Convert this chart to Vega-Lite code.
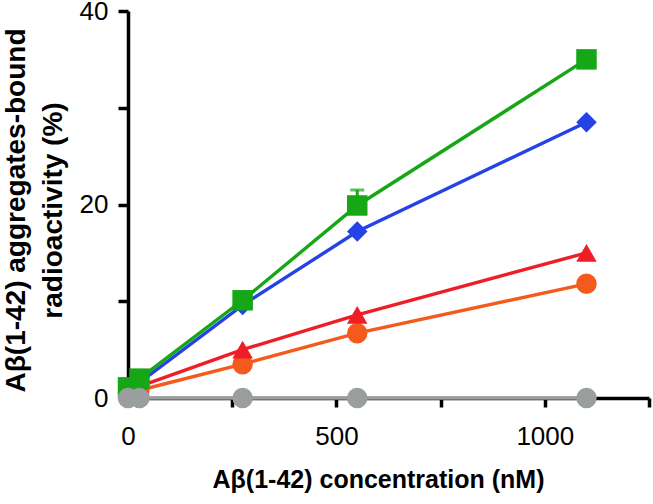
{
  "$schema": "https://vega.github.io/schema/vega-lite/v6.json",
  "width": 521,
  "height": 387,
  "autosize": "none",
  "padding": {"left": 128, "top": 11, "right": 4, "bottom": 106},
  "background": "white",
  "config": {
    "view": {"stroke": null},
    "font": "Liberation Sans"
  },
  "datasets": {
    "pts": [
      {"s": "orange", "conc": 0, "pct": 0.5},
      {"s": "orange", "conc": 27.5, "pct": 0.8},
      {"s": "orange", "conc": 275, "pct": 3.5},
      {"s": "orange", "conc": 550, "pct": 6.7},
      {"s": "orange", "conc": 1100, "pct": 11.8},
      {"s": "red", "conc": 0, "pct": 0.8},
      {"s": "red", "conc": 27.5, "pct": 1.2},
      {"s": "red", "conc": 275, "pct": 5.0},
      {"s": "red", "conc": 550, "pct": 8.6},
      {"s": "red", "conc": 1100, "pct": 15.0},
      {"s": "blue", "conc": 0, "pct": 1.0},
      {"s": "blue", "conc": 27.5, "pct": 1.6},
      {"s": "blue", "conc": 275, "pct": 9.6},
      {"s": "blue", "conc": 550, "pct": 17.2},
      {"s": "blue", "conc": 1100, "pct": 28.5},
      {"s": "green", "conc": 0, "pct": 1.1},
      {"s": "green", "conc": 27.5, "pct": 2.0},
      {"s": "green", "conc": 275, "pct": 10.1},
      {"s": "green", "conc": 550, "pct": 19.9},
      {"s": "green", "conc": 1100, "pct": 35.0},
      {"s": "gray", "conc": 0, "pct": 0},
      {"s": "gray", "conc": 27.5, "pct": 0},
      {"s": "gray", "conc": 275, "pct": 0},
      {"s": "gray", "conc": 550, "pct": 0},
      {"s": "gray", "conc": 1100, "pct": 0}
    ],
    "errs": [
      {"s": "green", "conc": 550, "pct": 19.9, "hi": 21.5}
    ]
  },
  "layer": [
    {
      "data": {"name": "errs"},
      "mark": {"type": "rule", "strokeWidth": 3},
      "encoding": {
        "x": {"field": "conc", "type": "quantitative", "scale": {"domain": [0, 1250]}},
        "y": {"field": "pct", "type": "quantitative"},
        "y2": {"field": "hi"},
        "color": {"field": "s", "type": "nominal", "legend": null,
          "scale": {"domain": ["orange", "red", "blue", "green", "gray"], "range": ["#f45a1c", "#ee1d26", "#2442e6", "#16a716", "#9a9e9e"]}}
      }
    },
    {
      "data": {"name": "errs"},
      "mark": {"type": "tick", "orient": "horizontal", "thickness": 3, "size": 14},
      "encoding": {
        "x": {"field": "conc", "type": "quantitative"},
        "y": {"field": "hi", "type": "quantitative"},
        "color": {"field": "s", "type": "nominal", "legend": null}
      }
    },
    {
      "data": {"name": "pts"},
      "mark": {"type": "line", "strokeWidth": 3.4},
      "encoding": {
        "x": {
          "field": "conc", "type": "quantitative",
          "scale": {"domain": [0, 1250], "nice": false},
          "axis": {
            "values": [0, 250, 500, 750, 1000, 1250],
            "labelExpr": "datum.value % 500 == 0 ? datum.label : ''",
            "format": "d",
            "title": "Aβ(1-42) concentration (nM)",
            "titleFont": "Liberation Sans",
            "titleFontWeight": "bold",
            "titleFontSize": 25,
            "titleColor": "#000",
            "titlePadding": 18,
            "titleX": 250,
            "titleAlign": "center",
            "labelFontSize": 26,
            "labelColor": "#000",
            "labelPadding": 16,
            "labelFont": "Liberation Sans",
            "labelFlush": false,
            "domainColor": "#000",
            "domainWidth": 3.5,
            "tickColor": "#000",
            "tickWidth": 3.5,
            "tickSize": 9,
            "grid": false
          }
        },
        "y": {
          "field": "pct", "type": "quantitative",
          "scale": {"domain": [0, 40], "nice": false},
          "axis": {
            "values": [0, 10, 20, 30, 40],
            "labelExpr": "datum.value % 20 == 0 ? datum.label : ''",
            "title": ["Aβ(1-42) aggregates-bound", "radioactivity (%)"],
            "titleFont": "Liberation Sans",
            "titleFontWeight": "bold",
            "titleFontSize": 28,
            "titleColor": "#000",
            "titleLineHeight": 37,
            "titleAngle": -90,
            "titleBaseline": "top",
            "titleAlign": "center",
            "titleX": -126,
            "titleY": 199,
            "labelFontSize": 26,
            "labelColor": "#000",
            "labelPadding": 10,
            "labelFont": "Liberation Sans",
            "labelFlush": false,
            "domainColor": "#000",
            "domainWidth": 3.5,
            "tickColor": "#000",
            "tickWidth": 3.5,
            "tickSize": 10,
            "grid": false
          }
        },
        "color": {"field": "s", "type": "nominal", "legend": null},
        "order": {"field": "conc", "type": "quantitative"}
      }
    },
    {
      "data": {"name": "pts"},
      "mark": {"type": "point", "filled": true, "opacity": 1, "size": 420},
      "encoding": {
        "x": {"field": "conc", "type": "quantitative"},
        "y": {"field": "pct", "type": "quantitative"},
        "color": {"field": "s", "type": "nominal", "legend": null},
        "shape": {"field": "s", "type": "nominal", "legend": null,
          "scale": {"domain": ["orange", "red", "blue", "green", "gray"], "range": ["circle", "triangle-up", "diamond", "square", "circle"]}}
      }
    }
  ]
}
